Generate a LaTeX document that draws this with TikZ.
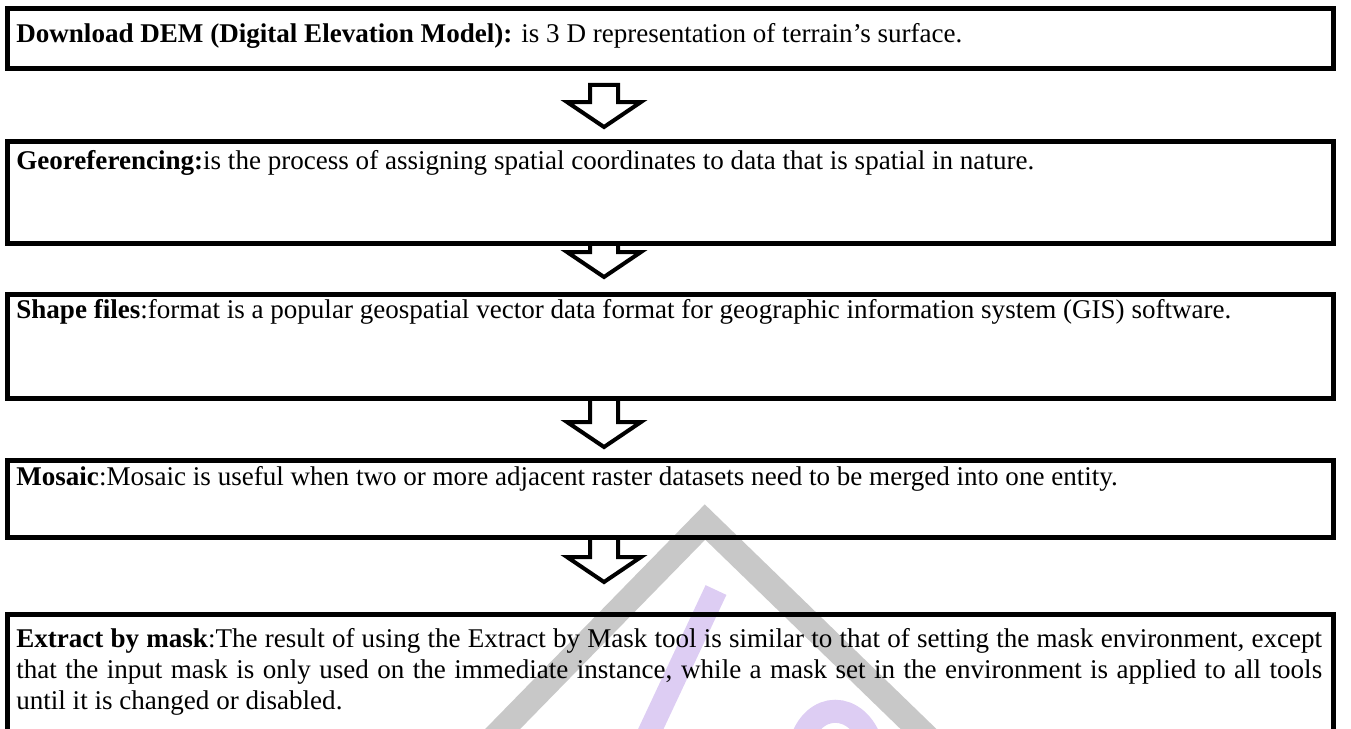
\documentclass[tikz,border=0pt]{standalone}
\usepackage{fontspec}
\setmainfont{Liberation Serif}
\usetikzlibrary{calc}
\definecolor{wmgray}{RGB}{200,200,200}
\definecolor{wmlilac}{RGB}{221,205,243}
\tikzset{box/.style={
            draw,
            line width=0.1cm,
            inner sep=0pt,
            outer sep=0pt,
            minimum width=26.52cm,
            anchor=north west
        },
        txt/.style={
            inner sep=0pt,
            anchor=base west,
            font=\fontsize{15.4pt}{17.7pt}\selectfont
        },
        para/.style={
            txt,
            anchor=north west,
            text width=26.12cm,
            align=justify
        },
        flowarr/.style={
            draw,
            line width=0.08cm
        },
        wmline/.style={
            line width=0.5cm,
            draw=wmgray
        }
    }
\newcommand{\blockarrow}[2]{%
    \draw[flowarr] ([xshift=-0.28cm]#1) -- ([xshift=-0.28cm,yshift=0.5cm]#2)
        -- ([xshift=-0.74cm,yshift=0.5cm]#2) -- (#2)
        -- ([xshift=0.74cm,yshift=0.5cm]#2) -- ([xshift=0.28cm,yshift=0.5cm]#2)
        -- ([xshift=0.28cm]#1) -- cycle;
}

\begin{document}
\begin{tikzpicture}[x=0.02cm, y=-0.02cm]
    \useasboundingbox (0,0) rectangle (1351,728);

    % watermark behind everything
    \draw[wmline] (487,745) -- (705,522) -- (935,745);
    \draw[wmline, draw=wmlilac, line width=0.46cm] (716,590) -- (648,735);
    \draw[wmline, draw=wmlilac, line width=0.46cm] (800,745) .. controls (812,700) and (858,700) .. (872,745);

    \node[box, minimum height=1.22cm] at (7.5,8) (dem) {};
    \node[box, minimum height=2.06cm] at (7.5,141) (geo) {};
    \node[box, minimum height=2.10cm] at (7.5,294) (shp) {};
    \node[box, minimum height=1.54cm] at (7.5,460) (mos) {};
    \node[box, minimum height=2.92cm] at (7.5,614) (ext) {};

    \node[txt] at ($(dem.north west)+(8.5,34)$) (demtxt) {\textbf{Download DEM (Digital Elevation Model):} is 3 D representation of terrain’s surface.};
    \node[txt] at ($(geo.north west)+(8.5,28)$) (geotxt) {\textbf{Georeferencing:}is the process of assigning spatial coordinates to data that is spatial in nature.};
    \node[txt] at ($(shp.north west)+(8.5,24)$) (shptxt) {\textbf{Shape files}:format is a popular geospatial vector data format for geographic information system (GIS) software.};
    \node[txt] at ($(mos.north west)+(8.5,25)$) (mostxt) {\textbf{Mosaic}:Mosaic is useful when two or more adjacent raster datasets need to be merged into one entity.};
    \node[para] at ($(ext.north west)+(8.5,14)$) (exttxt) {\textbf{Extract by mask}:The result of using the Extract by Mask tool is similar to that of setting the mask environment, except\linebreak
        that the input mask is only used on the immediate instance, while a mask set in the environment is applied to all tools\linebreak
        until it is changed or disabled.};

    \coordinate (a1s) at ($(dem.south west)+(596.5,16)$);
    \coordinate (a1e) at ($(geo.north west)+(596.5,-14)$);
    \coordinate (a2s) at (geo.south west -| a1s);
    \coordinate (a2e) at ($(shp.north west)+(596.5,-17)$);
    \coordinate (a3s) at (shp.south west -| a1s);
    \coordinate (a3e) at ($(mos.north west)+(596.5,-13)$);
    \coordinate (a4s) at (mos.south west -| a1s);
    \coordinate (a4e) at ($(ext.north west)+(596.5,-32)$);
    \blockarrow{a1s}{a1e}
    \blockarrow{a2s}{a2e}
    \blockarrow{a3s}{a3e}
    \blockarrow{a4s}{a4e}
\end{tikzpicture}
\end{document}
